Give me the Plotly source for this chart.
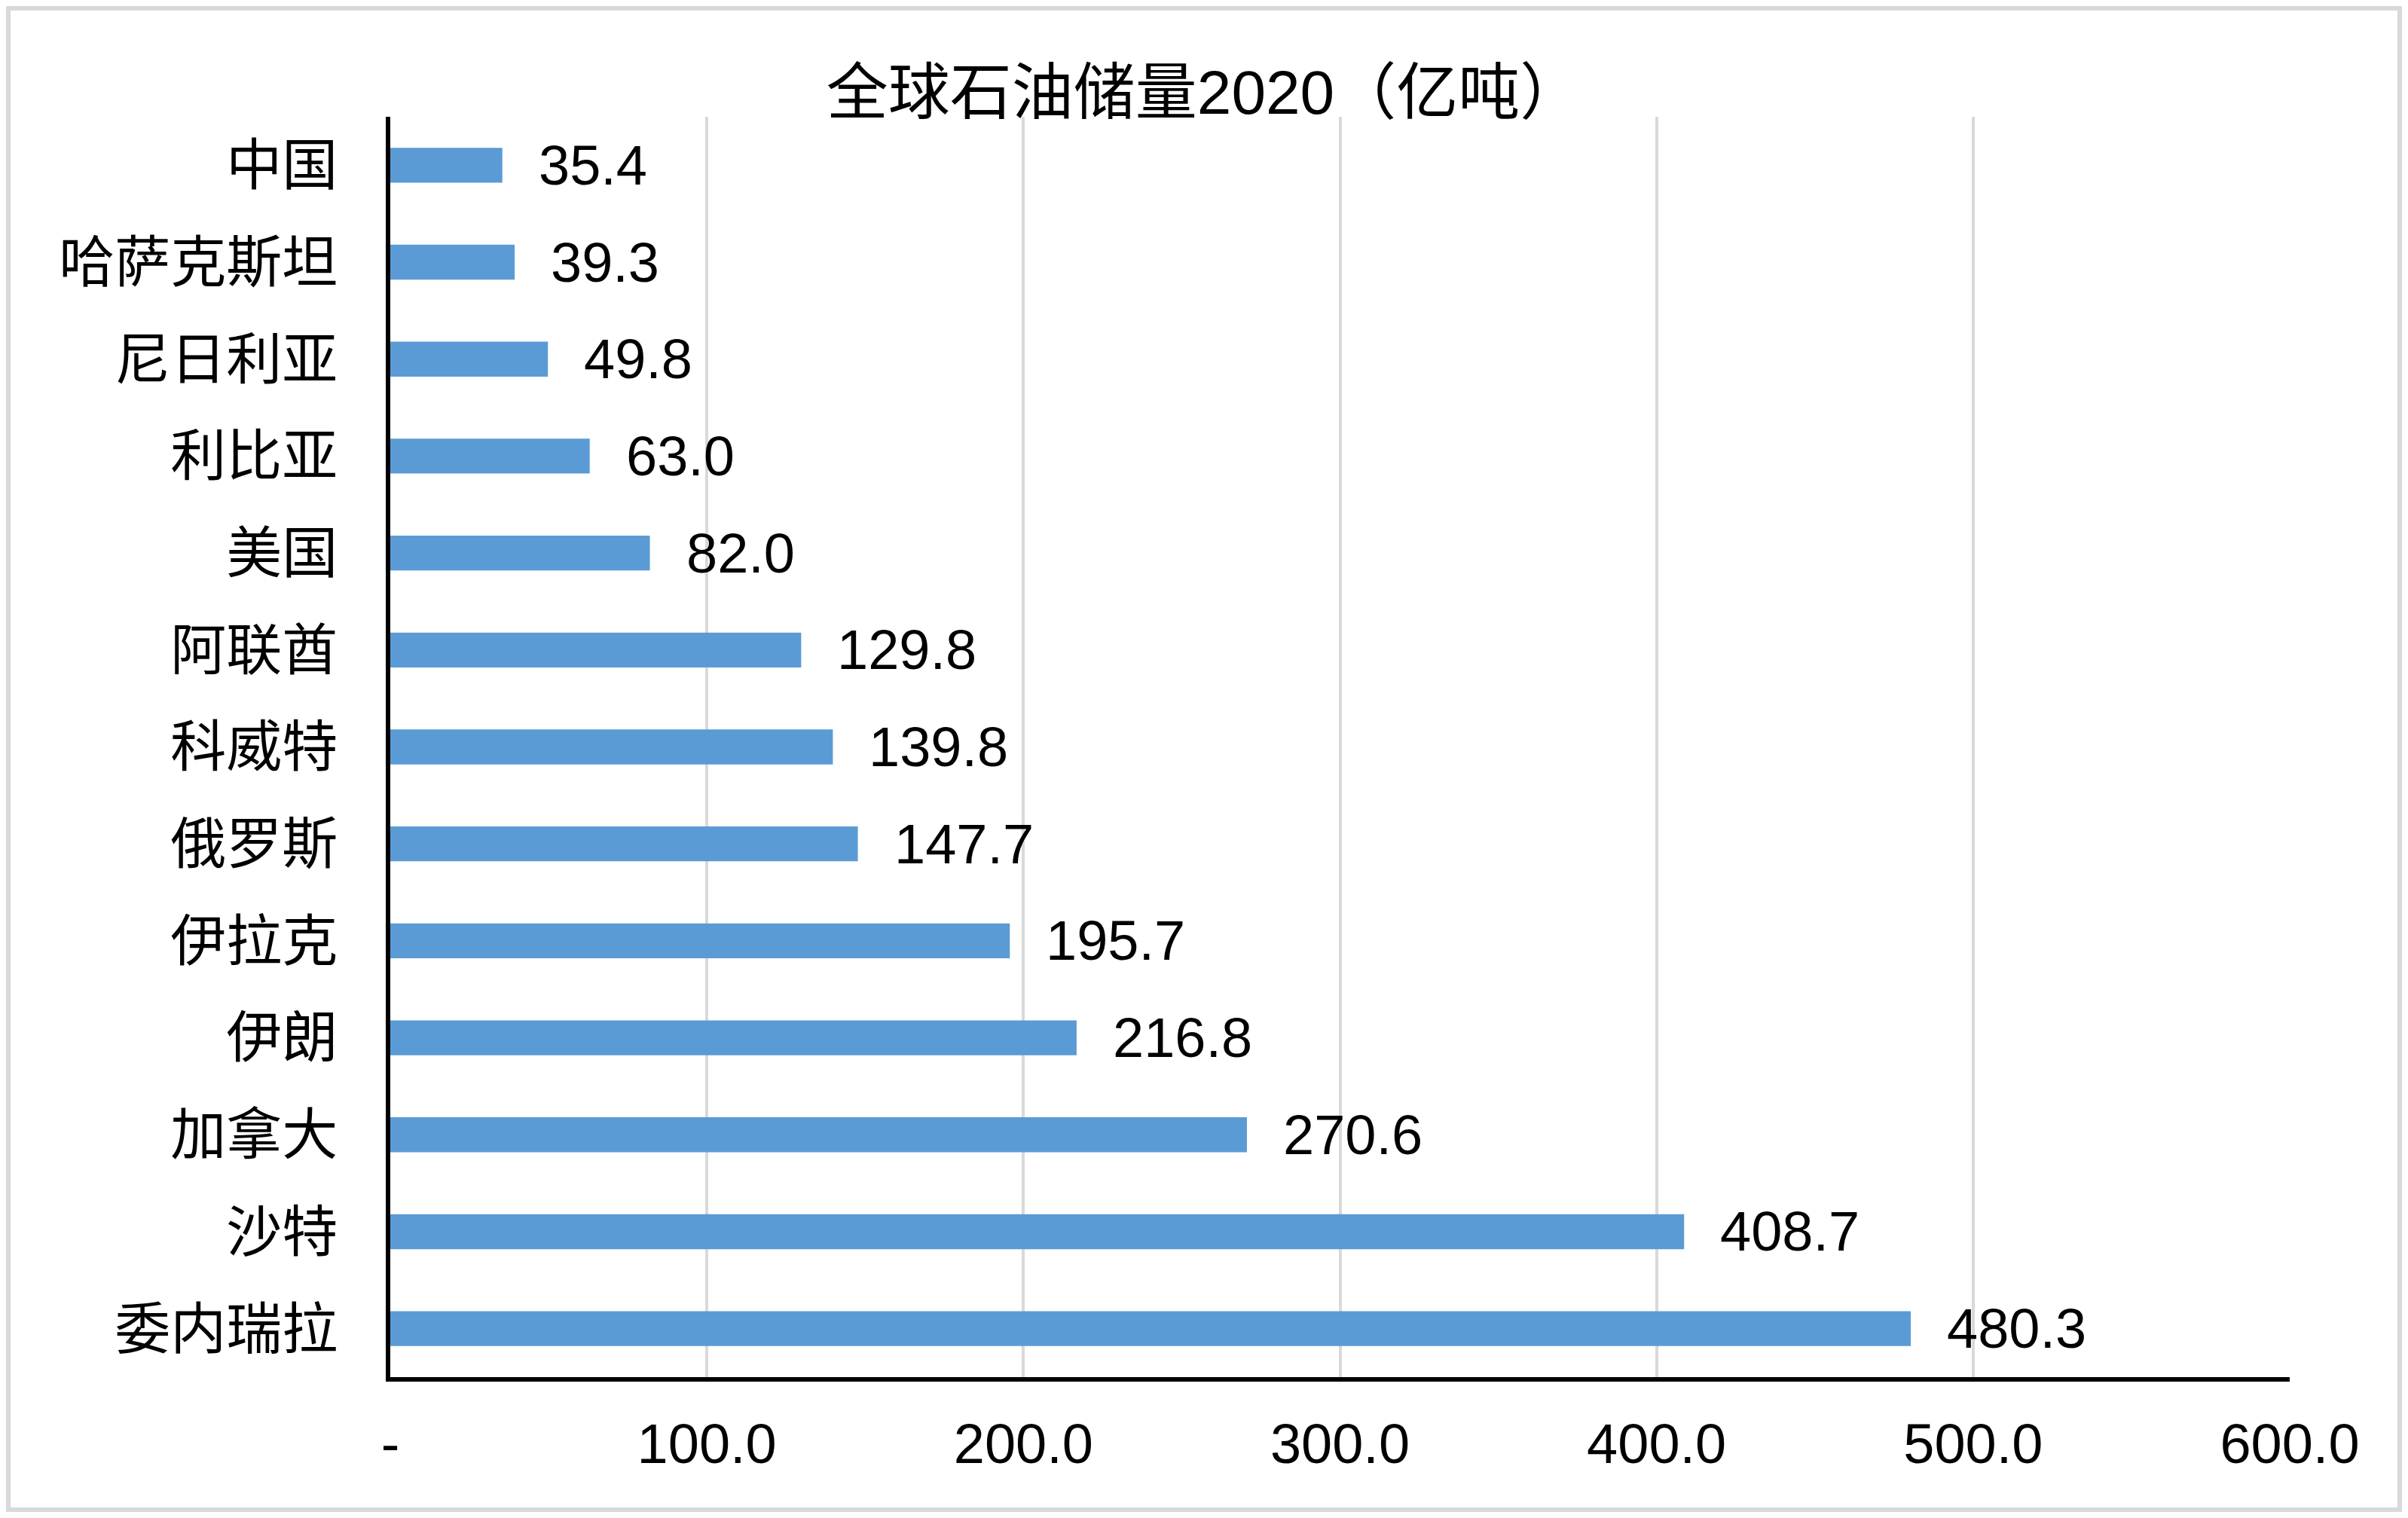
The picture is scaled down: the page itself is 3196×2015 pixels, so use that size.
import plotly.graph_objects as go

countries = ["中国", "哈萨克斯坦", "尼日利亚", "利比亚", "美国", "阿联酋", "科威特",
             "俄罗斯", "伊拉克", "伊朗", "加拿大", "沙特", "委内瑞拉"]
reserves = [35.4, 39.3, 49.8, 63.0, 82.0, 129.8, 139.8, 147.7, 195.7, 216.8, 270.6, 408.7, 480.3]
tick_vals = [0, 100, 200, 300, 400, 500, 600]
tick_text = ["-", "100.0", "200.0", "300.0", "400.0", "500.0", "600.0"]
title_text = "全球石油储量2020（亿吨）"

OFF = 8  # page body margin (each side)
W, H = 3196 - 2 * OFF, 2015 - 2 * OFF
L, T = 518 - OFF, 155 - OFF
R = (W + OFF) - 3039
B = (H + OFF) - 1828

BAR = "#5B9BD5"
GRID = "#D9D9D9"
NUM_FONT = "Liberation Sans, Arial, Noto Sans CJK SC"
CJK_FONT = "Noto Sans CJK SC, Liberation Sans"

fig = go.Figure()
fig.add_trace(go.Bar(
    x=reserves, y=countries, orientation="h",
    marker=dict(color=BAR, line=dict(width=0)),
    hoverinfo="x+y",
))

for c, v in zip(countries, reserves):
    fig.add_annotation(x=v, y=c, text=f"{v:.1f}", showarrow=False,
                       xanchor="left", yanchor="middle", xshift=46,
                       font=dict(family=NUM_FONT, size=74, color="black"))

# outer chart-area border (paper coordinates)
pw = W - L - R
ph = H - T - B
bx0 = (3 - L) / pw
bx1 = (W - 3 - L) / pw
by1 = (H - B - 3) / ph
by0 = (3 - B) / ph
fig.add_shape(type="rect", xref="paper", yref="paper",
              x0=bx0, x1=bx1, y0=by0, y1=by1,
              line=dict(color=GRID, width=6), layer="below")

fig.update_layout(
    width=W, height=H,
    margin=dict(l=L, r=R, t=T, b=B, pad=0),
    paper_bgcolor="white", plot_bgcolor="white",
    bargap=0.64,
    showlegend=False,
    title=dict(text=title_text, x=(1598 - OFF) / W, xref="container", xanchor="center",
               y=1 - (122 - OFF) / H, yref="container", yanchor="middle",
               font=dict(family=NUM_FONT, size=82, color="black")),
    xaxis=dict(range=[0, 600], tickvals=tick_vals, ticktext=tick_text,
               showgrid=True, gridcolor=GRID, gridwidth=4,
               zeroline=False, showline=True, linecolor="black", linewidth=6,
               ticks="", ticklabelstandoff=19,
               tickfont=dict(family=NUM_FONT, size=74, color="black")),
    yaxis=dict(autorange="reversed", showgrid=False, zeroline=False,
               showline=True, linecolor="black", linewidth=6,
               ticks="", ticklabelstandoff=49,
               tickfont=dict(family=CJK_FONT, size=74, color="black")),
)

fig.write_html("out.html")
